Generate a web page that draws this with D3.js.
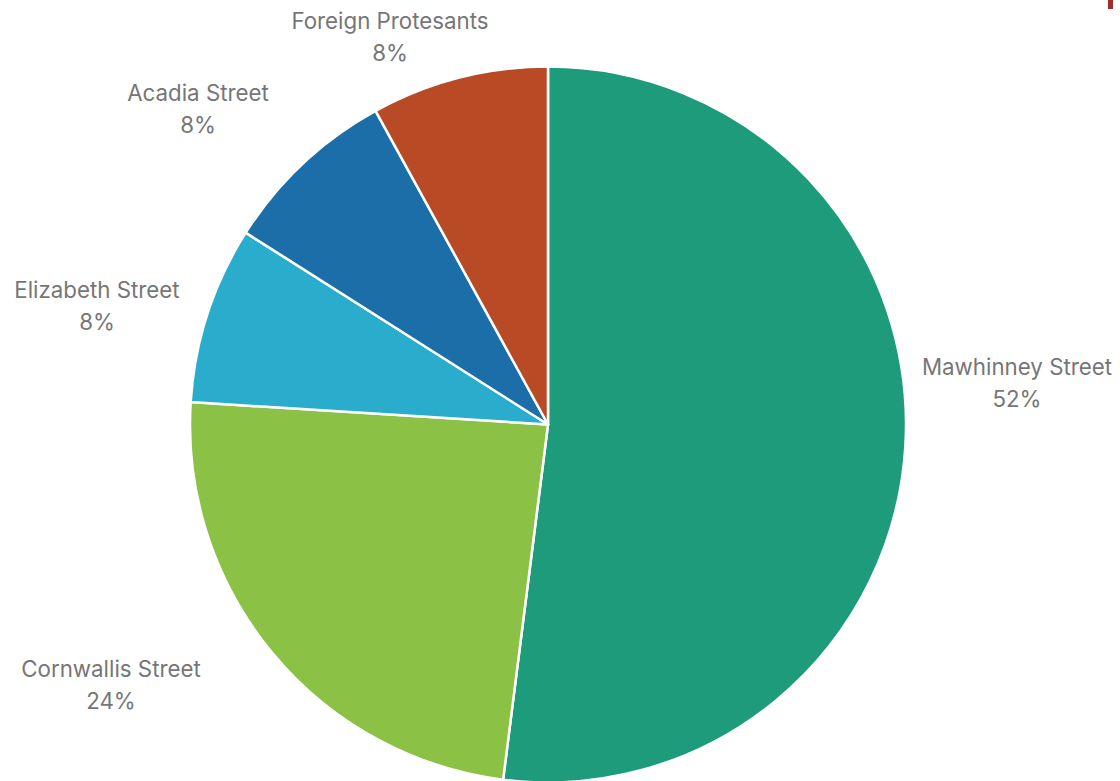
<!DOCTYPE html>
<html>
<head>
<meta charset="utf-8">
<script src="https://cdn.jsdelivr.net/npm/d3@7"></script>
<style>
  html, body { margin: 0; padding: 0; background: #fff; }
  svg { display: block; }
</style>
</head>
<body>
<svg id="chart" width="1120" height="781"></svg>
<script>
// Congregation counts by street (clockwise from 12 o'clock)
const categories = ["Mawhinney Street", "Cornwallis Street", "Elizabeth Street", "Acadia Street", "Foreign Protesants"];
const counts = [13, 6, 2, 2, 2];
const colors = ["#1E9B7A", "#8BC145", "#2AADCC", "#1B6EA8", "#B84A26"];

// Label anchors (centre of the two-line label block)
const labelAnchors = [[1017, 382], [111, 684], [97, 305], [198, 108], [390, 36]];

const svg = d3.select("#chart");
const cx = 548, cy = 424.5, r = 358;

const total = d3.sum(counts);
const data = categories.map((c, i) => ({ name: c, value: counts[i], color: colors[i], i }));

const pie = d3.pie().value(d => d.value).sort(null);
const arc = d3.arc().innerRadius(0).outerRadius(r);

const g = svg.append("g").attr("transform", `translate(${cx},${cy})`);
g.selectAll("path")
  .data(pie(data))
  .join("path")
  .attr("d", arc)
  .attr("fill", d => d.data.color)
  .attr("stroke", "#fff")
  .attr("stroke-width", 2.5)
  .attr("stroke-linejoin", "round");

const fmt = d3.format(".0%");
const labels = svg.append("g")
  .attr("font-family", "Inter, 'Open Sans', sans-serif")
  .attr("font-size", 22.3)
  .attr("fill", "#767676")
  .attr("text-anchor", "middle");

data.forEach((d, i) => {
  const [x, y] = labelAnchors[i];
  const t = labels.append("text").attr("x", x).attr("y", y);
  t.append("tspan").attr("x", x).attr("dy", "-0.32em").text(d.name);
  t.append("tspan").attr("x", x).attr("dy", "1.45em").text(fmt(d.value / total));
});

// small accent mark at the top-right edge
svg.append("rect").attr("x", 1108).attr("y", 0).attr("width", 5).attr("height", 9).attr("fill", "#A52A2A");
</script>
</body>
</html>
